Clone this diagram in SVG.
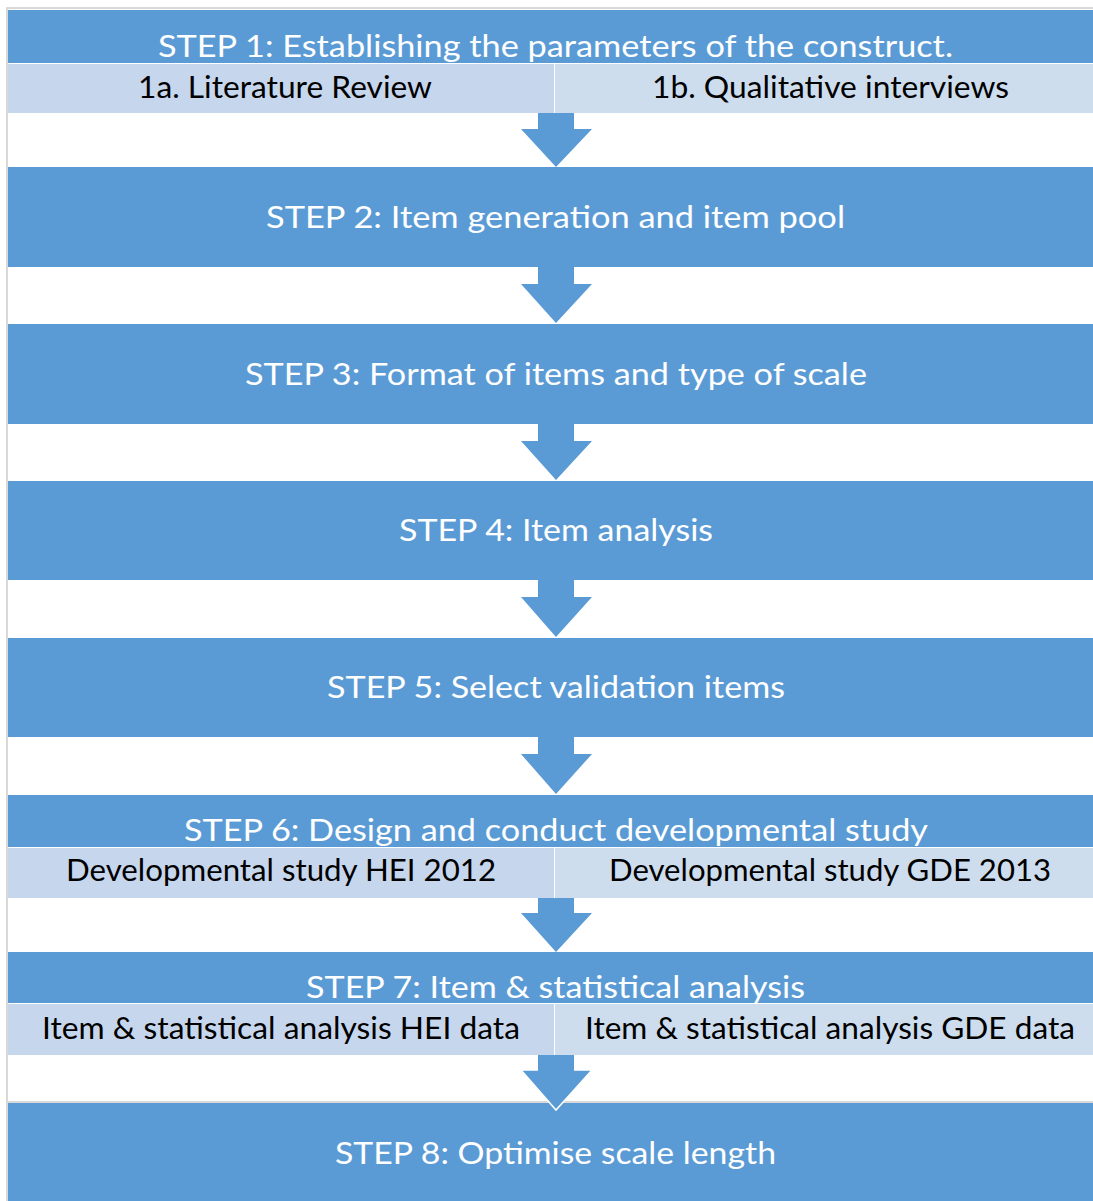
<svg xmlns="http://www.w3.org/2000/svg" width="1093" height="1201" viewBox="0 0 1093 1201">
<style>
.hdr{fill:#5B9BD5}
.subL{fill:#C6D6EC}
.subR{fill:#CDDDEE}
.sep{fill:#D9D9D9}
.wt{font-family:Lato,"Open Sans","Liberation Sans",sans-serif;font-size:31px;fill:#FFFFFF}
.bk{font-family:Lato,"Open Sans","Liberation Sans",sans-serif;font-size:31px;fill:#000000}
.arr{fill:#5B9BD5}
.arrw{fill:#5B9BD5;stroke:#FFFFFF;stroke-width:1.5;stroke-linejoin:miter}
</style>
<rect width="1093" height="1201" fill="#FFFFFF"/>
<rect class="sep" x="6" y="7" width="1087" height="2"/>
<rect class="sep" x="6" y="7" width="2" height="1194"/>

<g id="step1">
<rect class="hdr" x="8" y="10" width="1085" height="53"/>
<rect class="subL" x="8" y="64" width="546" height="49"/>
<rect class="subR" x="555" y="64" width="538" height="49"/>
<text class="wt" x="158" y="57" textLength="795" lengthAdjust="spacingAndGlyphs">STEP 1: Establishing the parameters of the construct.</text>
<text class="bk" x="138" y="98" textLength="294" lengthAdjust="spacingAndGlyphs">1a. Literature Review</text>
<text class="bk" x="652" y="98" textLength="357" lengthAdjust="spacingAndGlyphs">1b. Qualitative interviews</text>
</g>

<g id="step2">
<rect class="hdr" x="8" y="167" width="1085" height="100"/>
<text class="wt" x="266" y="228" textLength="579" lengthAdjust="spacingAndGlyphs">STEP 2: Item generation and item pool</text>
</g>

<g id="step3">
<rect class="hdr" x="8" y="324" width="1085" height="100"/>
<text class="wt" x="245" y="385" textLength="622" lengthAdjust="spacingAndGlyphs">STEP 3: Format of items and type of scale</text>
</g>

<g id="step4">
<rect class="hdr" x="8" y="481" width="1085" height="99"/>
<text class="wt" x="399" y="541" textLength="314" lengthAdjust="spacingAndGlyphs">STEP 4: Item analysis</text>
</g>

<g id="step5">
<rect class="hdr" x="8" y="638" width="1085" height="99"/>
<text class="wt" x="327" y="698" textLength="458" lengthAdjust="spacingAndGlyphs">STEP 5: Select validation items</text>
</g>

<g id="step6">
<rect class="hdr" x="8" y="795" width="1085" height="52"/>
<rect class="subL" x="8" y="848" width="546" height="50"/>
<rect class="subR" x="555" y="848" width="538" height="50"/>
<text class="wt" x="184" y="841" textLength="744" lengthAdjust="spacingAndGlyphs">STEP 6: Design and conduct developmental study</text>
<text class="bk" x="66" y="881" textLength="430" lengthAdjust="spacingAndGlyphs">Developmental study HEI 2012</text>
<text class="bk" x="609" y="881" textLength="442" lengthAdjust="spacingAndGlyphs">Developmental study GDE 2013</text>
</g>

<g id="step7">
<rect class="hdr" x="8" y="952" width="1085" height="51"/>
<rect class="subL" x="8" y="1004" width="546" height="51"/>
<rect class="subR" x="555" y="1004" width="538" height="51"/>
<text class="wt" x="306" y="998" textLength="499" lengthAdjust="spacingAndGlyphs">STEP 7: Item &amp; statistical analysis</text>
<text class="bk" x="42" y="1039" textLength="478" lengthAdjust="spacingAndGlyphs">Item &amp; statistical analysis HEI data</text>
<text class="bk" x="585" y="1039" textLength="490" lengthAdjust="spacingAndGlyphs">Item &amp; statistical analysis GDE data</text>
</g>

<g id="step8">
<rect class="sep" x="8" y="1101" width="1085" height="2"/>
<rect class="hdr" x="8" y="1103" width="1085" height="98"/>
<text class="wt" x="335" y="1164" textLength="441" lengthAdjust="spacingAndGlyphs">STEP 8: Optimise scale length</text>
</g>

<g id="connectors">
<polygon class="arr" points="538,113 574,113 574,129 592,129 556,167 521,129 538,129"/>
<polygon class="arr" points="538,267 574,267 574,284 592,284 556,323 521,284 538,284"/>
<polygon class="arr" points="538,424 574,424 574,441 592,441 556,480 521,441 538,441"/>
<polygon class="arr" points="538,580 574,580 574,597 592,597 556,637 521,597 538,597"/>
<polygon class="arr" points="538,737 574,737 574,754 592,754 556,794 521,754 538,754"/>
<polygon class="arr" points="538,898 574,898 574,913 592,913 556,952 521,913 538,913"/>
<polygon class="arrw" points="574,1070 592,1070 556,1110 521,1070"/>
<rect class="arr" x="538" y="1055" width="36" height="16"/>
</g>
</svg>
